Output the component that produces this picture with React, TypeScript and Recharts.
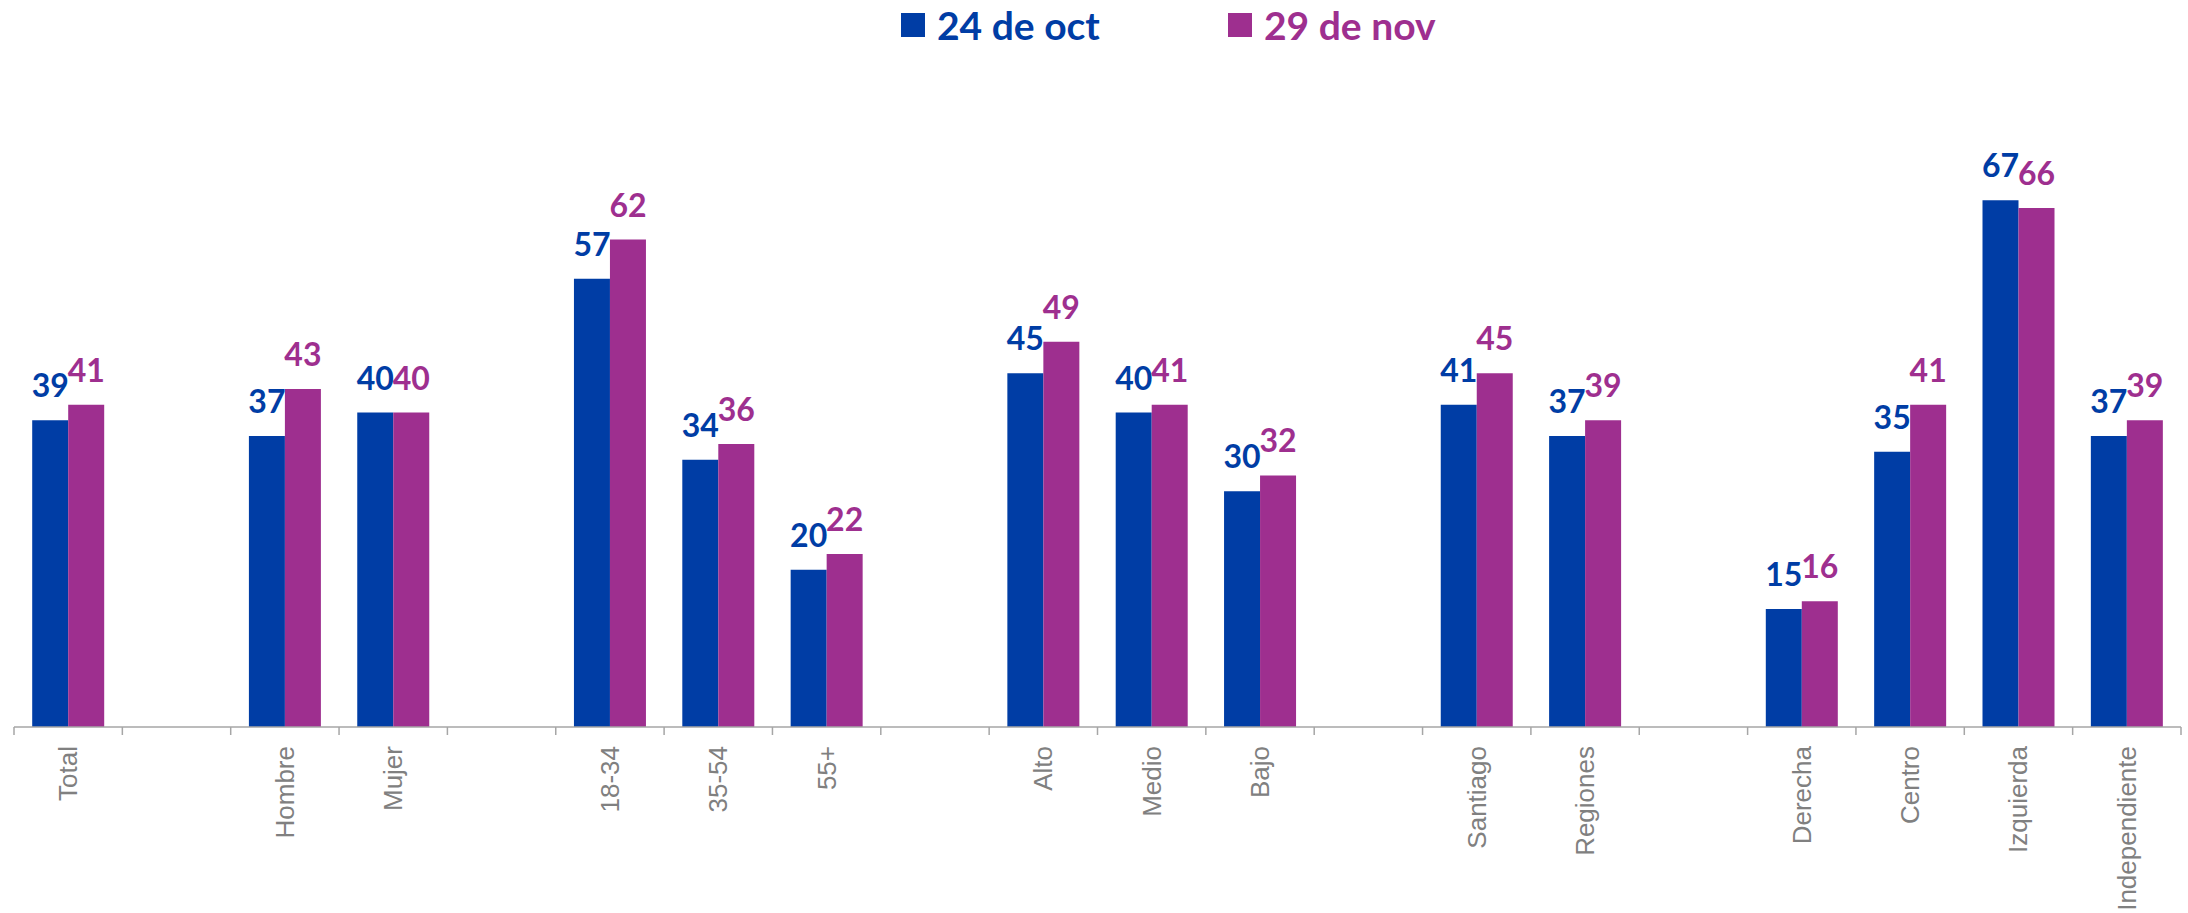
import { BarChart, Bar, XAxis, YAxis, LabelList } from "recharts";

const OCT = "#003DA5";
const NOV = "#9E2F8F";
const AXIS = "#A6A6A6";
const TICK_TEXT = "#808080";

const CATEGORIES = [
  "Total", "", "Hombre", "Mujer", "", "18-34", "35-54", "55+", "",
  "Alto", "Medio", "Bajo", "", "Santiago", "Regiones", "",
  "Derecha", "Centro", "Izquierda", "Independiente",
];
const OCT_VALUES = [39, null, 37, 40, null, 57, 34, 20, null, 45, 40, 30, null, 41, 37, null, 15, 35, 67, 37];
const NOV_VALUES = [41, null, 43, 40, null, 62, 36, 22, null, 49, 41, 32, null, 45, 39, null, 16, 41, 66, 39];
const SERIES_NAMES = ["24 de oct", "29 de nov"];

const W = 2188;
const H = 913;
const MARGIN = { top: 98, right: 7, bottom: 0, left: 14 };
const BAND = (W - MARGIN.left - MARGIN.right) / CATEGORIES.length;

const data = CATEGORIES.map((name, i) => ({
  name,
  oct: OCT_VALUES[i],
  nov: NOV_VALUES[i],
}));

// recharts hands the tick y already shifted by tickSize + tickMargin (6 + 2)
function CategoryTick(props: any) {
  const { x, y, payload, index } = props;
  const axisY = y - 8;
  const left = x - BAND / 2;
  const last = index === CATEGORIES.length - 1;
  const ly = axisY + 19;
  return (
    <g>
      <line x1={left} x2={left} y1={axisY} y2={axisY + 8} stroke={AXIS} strokeWidth={1.5} />
      {last && (
        <line x1={left + BAND} x2={left + BAND} y1={axisY} y2={axisY + 8} stroke={AXIS} strokeWidth={1.5} />
      )}
      <text
        x={x}
        y={ly}
        transform={`rotate(-90, ${x}, ${ly})`}
        textAnchor="end"
        dominantBaseline="central"
        fontFamily="'Liberation Sans', Arial, sans-serif"
        fontSize={26}
        fill={TICK_TEXT}
      >
        {payload.value}
      </text>
    </g>
  );
}

function valueLabel(color: string) {
  return (props: any) => {
    const { x, y, width, value } = props;
    if (value == null) return null;
    return (
      <text
        x={x + width / 2}
        y={y - 23}
        textAnchor="middle"
        fontFamily="Lato, 'Open Sans', sans-serif"
        fontWeight={700}
        fontSize={32}
        fill={color}
      >
        {value}
      </text>
    );
  };
}

function LegendItem({ color, label, left }: { color: string; label: string; left: number }) {
  return (
    <div style={{ position: "absolute", left, top: 0, display: "flex", alignItems: "center", height: 50 }}>
      <span style={{ width: 24, height: 24, background: color, display: "inline-block" }} />
      <span
        style={{
          marginLeft: 12,
          color,
          fontFamily: "Lato, 'Open Sans', sans-serif",
          fontWeight: 700,
          fontSize: 39,
          lineHeight: "50px",
        }}
      >
        {label}
      </span>
    </div>
  );
}

export default function App() {
  return (
    <div style={{ position: "absolute", left: 0, top: 0, width: W, height: H, background: "#fff" }}>
      <LegendItem color={OCT} label={SERIES_NAMES[0]} left={901} />
      <LegendItem color={NOV} label={SERIES_NAMES[1]} left={1228} />
      <BarChart width={W} height={H} data={data} margin={MARGIN} barCategoryGap="16.8%" barGap={0}>
        <XAxis
          dataKey="name"
          interval={0}
          height={186}
          axisLine={{ stroke: AXIS, strokeWidth: 1.5 }}
          tickLine={false}
          tick={<CategoryTick />}
        />
        <YAxis hide width={0} domain={[0, 80]} />
        <Bar dataKey="oct" name={SERIES_NAMES[0]} fill={OCT} isAnimationActive={false}>
          <LabelList dataKey="oct" content={valueLabel(OCT)} />
        </Bar>
        <Bar dataKey="nov" name={SERIES_NAMES[1]} fill={NOV} isAnimationActive={false}>
          <LabelList dataKey="nov" content={valueLabel(NOV)} />
        </Bar>
      </BarChart>
    </div>
  );
}
